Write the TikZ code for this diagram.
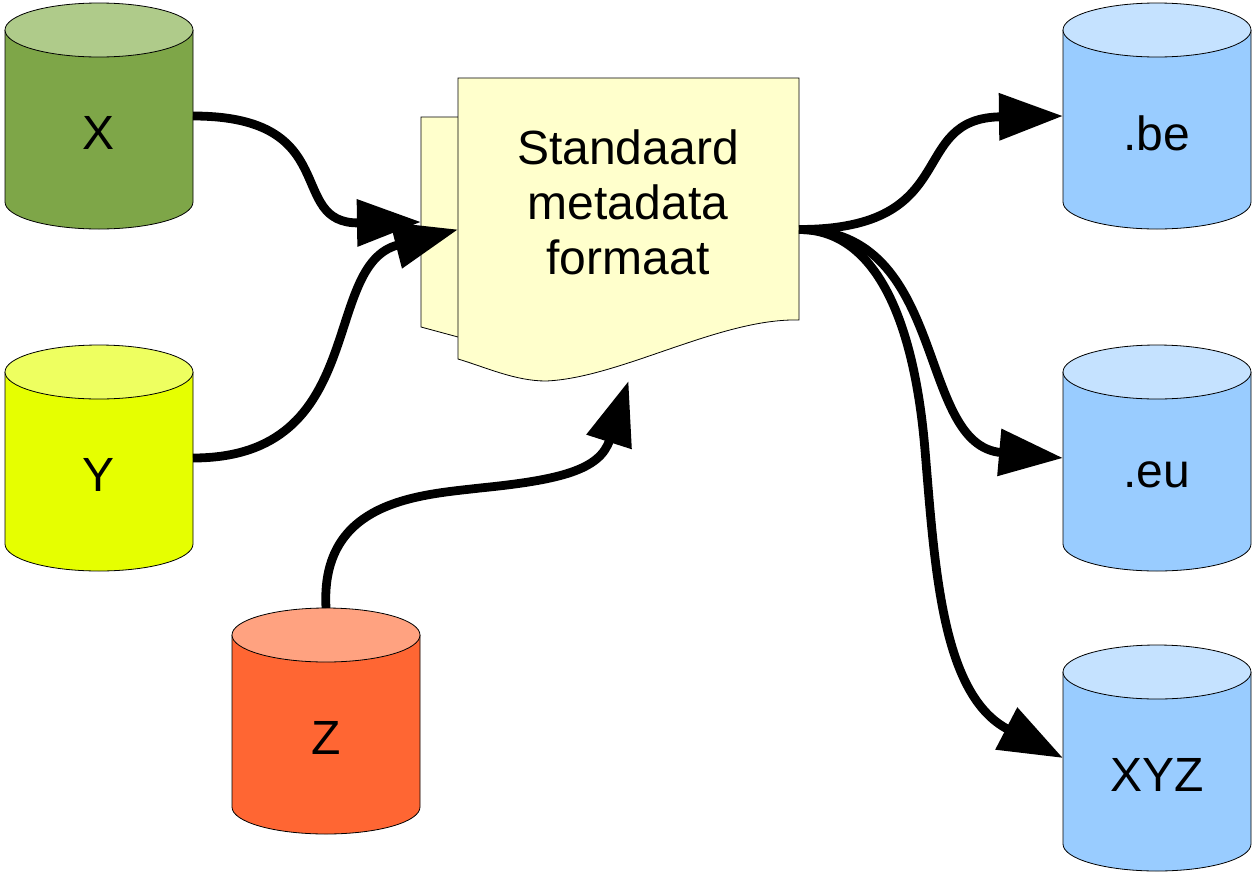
\documentclass[tikz,border=0pt]{standalone}
\usepackage{fontspec}
\setmainfont{Liberation Sans}
\usetikzlibrary{arrows.meta}

\definecolor{xbody}{RGB}{126,166,72}
\definecolor{xtop}{RGB}{175,203,138}
\definecolor{ybody}{RGB}{230,255,0}
\definecolor{ytop}{RGB}{238,255,96}
\definecolor{zbody}{RGB}{255,102,51}
\definecolor{ztop}{RGB}{255,162,128}
\definecolor{blbody}{RGB}{153,204,255}
\definecolor{bltop}{RGB}{197,226,255}
\definecolor{docfill}{RGB}{255,255,204}

\begin{document}
\begin{tikzpicture}[x=0.75pt,y=-0.75pt,>={Triangle[length=48pt,width=34pt]},
  dbnode/.style={rectangle,inner sep=0pt,outer sep=0pt,minimum width=141pt,minimum height=169.5pt},
  docnode/.style={rectangle,inner sep=0pt,outer sep=0pt,minimum width=255.75pt},
  bigtext/.style={font=\fontsize{36}{41.25}\selectfont,inner sep=0pt},
  page/.style={fill=docfill,draw=black,line width=0.6pt},
  flow/.style={->,line width=6.6pt}]
  \useasboundingbox (0,0) rectangle (1256,875);
  % databases: name/x/top/body/top face/text
  \foreach \n/\cx/\cy/\body/\face/\txt in {X/99/3/xbody/xtop/X,Y/99/345/ybody/ytop/Y,
      Z/326/608/zbody/ztop/Z,be/1157/3/blbody/bltop/.be,eu/1157/345/blbody/bltop/.eu,
      xyz/1157/645/blbody/bltop/XYZ} {
    \filldraw[fill=\body,draw=black,line width=0.6pt] (\cx-94,\cy+27) -- (\cx-94,\cy+199)
      arc[start angle=180,end angle=0,x radius=94,y radius=27] -- (\cx+94,\cy+27);
    \filldraw[fill=\face,draw=black,line width=0.6pt] (\cx,\cy+27) ellipse[x radius=94,y radius=27];
    \node[dbnode] (\n) at (\cx,\cy+113) {};
    \node[bigtext] (\n-txt) at (\cx,\cy+130) {\txt};
  }
  % document
  \filldraw[page] (458,117) -- (421,117) -- (421,327) -- (458,337);
  \filldraw[page] (458,78) -- (799,78) -- (799,320) .. controls (720,318) and (620,378) .. (546,381)
    .. controls (515,381) and (485,367) .. (458,359) -- cycle;
  \node[docnode,minimum height=157.5pt] (back) at (591.5,222) {};
  \node[docnode,minimum height=227.25pt] (doc) at (628.5,229.5) {};
  \node[bigtext,align=center] (doc-txt) at (628,202) {Standaard\\metadata\\formaat};
  % connectors
  \draw[flow] (X.east) .. controls (345,116) and (285,224) .. (back.west);
  \draw[flow] (Y.east) .. controls (370,458) and (320,265) .. (doc.west);
  \draw[flow] (Z.north) .. controls (320,500) and (420,495) .. (480,488)
    .. controls (560,480) and (600,470) .. (doc.south);
  \draw[flow] (doc.east) .. controls (965,229.5) and (905,118) .. (be.west);
  \draw[flow] (doc.east) .. controls (950,229.5) and (915,445) .. (eu.west);
  \draw[flow] (doc.east) .. controls (880,229.5) and (915,330) .. (925,450)
    .. controls (935,570) and (942,695) .. (xyz.west);
\end{tikzpicture}
\end{document}
